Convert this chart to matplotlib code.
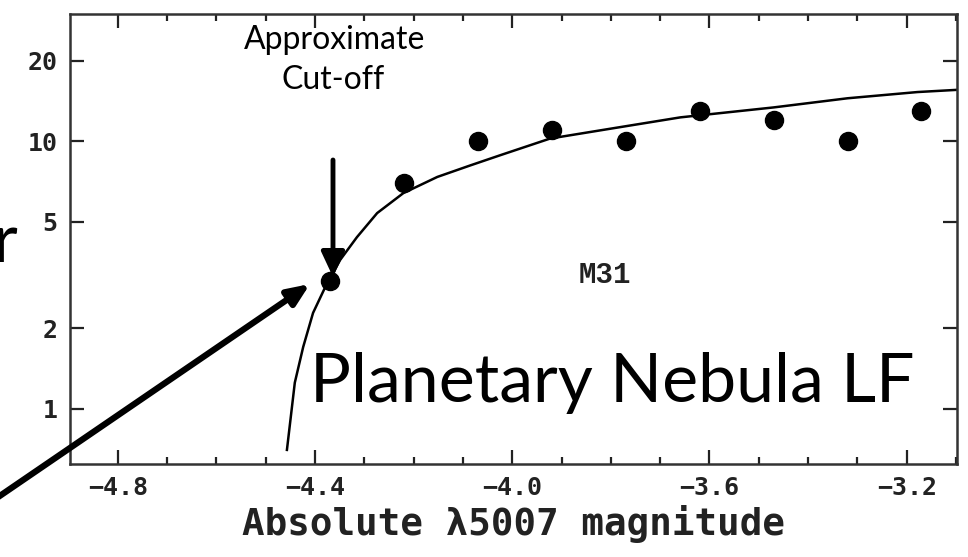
import numpy as np
import matplotlib
matplotlib.use("Agg")
import matplotlib.pyplot as plt
from matplotlib.ticker import FixedLocator, MultipleLocator, NullLocator

# M31 PNLF points
mag = [-4.37, -4.22, -4.07, -3.92, -3.77, -3.62, -3.47, -3.32, -3.17]
counts = [3, 7, 10, 11, 10, 13, 12, 10, 13]

# fitted curve, points
curve_mag = [-4.457, -4.441, -4.424, -4.404, -4.380, -4.349, -4.315, -4.274, -4.221,
             -4.152, -4.085, -4.024, -3.923, -3.795, -3.659, -3.47, -3.32, -3.178, -3.096]
curve_n = [0.70, 1.25, 1.70, 2.28, 2.83, 3.60, 4.38, 5.39, 6.40,
           7.36, 8.13, 8.88, 10.25, 11.2, 12.3, 13.4, 14.5, 15.3, 15.6]

xticks = [-4.8, -4.4, -4.0, -3.6, -3.2]
yticks = [1, 2, 5, 10, 20]

fig = plt.figure(figsize=(9.68, 5.57), dpi=100)
ax = fig.add_axes([0.0723, 0.167, 0.9163, 0.808])

ax.plot(curve_mag, curve_n, color="black", lw=1.8)
ax.plot(mag, counts, "o", color="black", ms=13)

ax.set_yscale("log")
ax.set_xlim(-4.897, -3.098)
ax.set_ylim(0.62, 30)

mono = "DejaVu Sans Mono"
ax.xaxis.set_major_locator(FixedLocator(xticks))
ax.xaxis.set_minor_locator(MultipleLocator(0.1))
ax.yaxis.set_major_locator(FixedLocator(yticks))
ax.yaxis.set_minor_locator(NullLocator())
ax.set_xticklabels(["\u2212%.1f" % abs(v) for v in xticks])
ax.set_yticklabels([str(v) for v in yticks])
ax.tick_params(which="both", direction="in", top=True, right=True, width=1.6, color="#222")
ax.tick_params(which="major", length=10, pad=9)
ax.tick_params(which="minor", length=5)
for lab in ax.get_xticklabels() + ax.get_yticklabels():
    lab.set_fontfamily(mono)
    lab.set_fontweight("bold")
    lab.set_fontsize(18)
    lab.set_color("#222")
for s in ax.spines.values():
    s.set_linewidth(1.8)
    s.set_color("#333")

ax.set_xlabel("Absolute \u03bb5007 magnitude", fontfamily=mono, fontweight="bold",
              fontsize=27, color="#222", labelpad=3)

fig.text(0.625, 0.506, "M31", ha="center", va="center",
         fontfamily="Liberation Mono", fontweight="bold", fontsize=21, color="#222")

sans = "Lato"
fig.text(0.346, 0.928, "Approximate", ha="center", va="center", fontfamily=sans, fontsize=23)
fig.text(0.344, 0.856, "Cut-off", ha="center", va="center", fontfamily=sans, fontsize=23)
fig.text(0.320, 0.278, "Planetary Nebula LF", ha="left", va="baseline", fontfamily=sans, fontsize=49)
fig.text(-0.008, 0.530, "r", ha="left", va="baseline", fontfamily=sans, fontsize=49)

ax.annotate("", xy=(0.344, 1 - 277 / 557), xycoords="figure fraction",
            xytext=(0.344, 1 - 160 / 557), textcoords="figure fraction",
            arrowprops=dict(arrowstyle="-|>,head_length=1.5,head_width=0.7", lw=3.5, color="black",
                            shrinkA=0, shrinkB=0))
ax.annotate("", xy=(310 / 968, 1 - 284 / 557), xycoords="figure fraction",
            xytext=(-0.02, 1 - 509 / 557), textcoords="figure fraction",
            arrowprops=dict(arrowstyle="-|>,head_length=1.3,head_width=0.55", lw=4.5, color="black",
                            shrinkA=0, shrinkB=0))

fig.savefig("out.png", dpi=100)
